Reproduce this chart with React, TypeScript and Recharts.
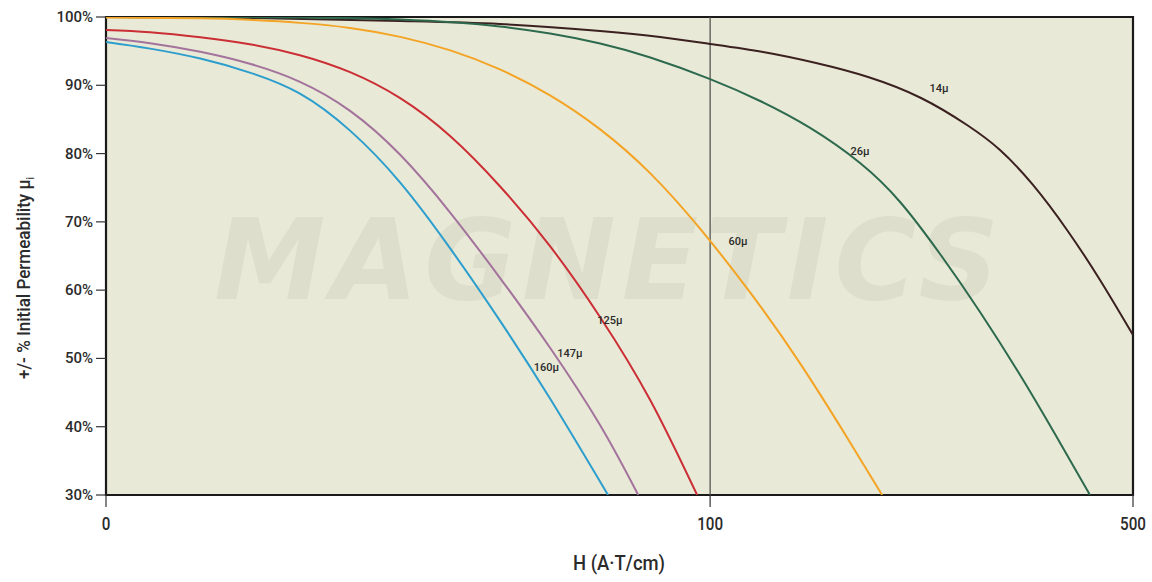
import React from 'react';
import {
  LineChart,
  Line,
  XAxis,
  YAxis,
  ReferenceLine,
  ReferenceArea,
  ReferenceDot,
} from 'recharts';

// Field strength H (A·T/cm) and % of initial permeability for each powder core
const h14 = [0, 23.8, 48.7, 65.2, 81.8, 91.7, 100, 150.1, 200.2, 249.4, 299.5, 343, 374.2, 405.4, 437.6, 468.8, 500];
const mu14 = [100, 99.85, 99.41, 98.97, 97.95, 97.07, 96.05, 94.87, 93.26, 91.21, 88.14, 84.18, 80.52, 75.4, 68.81, 61.49, 53.43];

const h26 = [0, 32.1, 48.7, 58, 65.2, 73.5, 81.8, 90.1, 100, 147.3, 194.6, 241.8, 279.7, 317.5, 355.3, 393.2, 426.2, 459.3];
const mu26 = [100, 99.93, 99.63, 99.19, 98.61, 97.58, 96.12, 94.07, 90.91, 87.7, 83.75, 78.62, 72.91, 65.29, 56.8, 47.57, 38.93, 30];

const h60 = [0, 15.6, 23.8, 32.1, 40.4, 48.7, 57, 65.2, 73.5, 81.8, 90.1, 98.3, 137.8, 185.1, 232.4, 262.7];
const mu60 = [99.93, 99.8, 99.58, 99.14, 98.4, 97.09, 95.11, 92.33, 88.52, 83.54, 77.1, 69.04, 59.67, 49.27, 37.7, 30];

const h125 = [0, 7.3, 15.6, 23.8, 32.1, 40.4, 48.7, 57, 65.2, 73.5, 81.8, 90.1, 97.85];
const mu125 = [98.1, 97.77, 97.04, 96.02, 94.41, 91.92, 88.11, 82.54, 75.22, 66.44, 56.04, 43.88, 30];

const h147 = [0, 7.3, 15.6, 23.8, 32.1, 40.4, 48.7, 57, 65.2, 73.5, 81.8, 88.1];
const mu147 = [96.92, 96.15, 94.9, 93.15, 90.51, 86.26, 79.82, 71.33, 61.81, 51.56, 40.21, 30];

const h160 = [0, 7.3, 15.6, 23.8, 32.1, 40.4, 48.7, 57, 65.2, 73.5, 83.1];
const mu160 = [96.34, 95.37, 93.91, 91.86, 88.78, 83.36, 75.75, 66.08, 55.54, 44.12, 30];

const xTicksH = [0, 100, 500];
const yTicks = [30, 40, 50, 60, 70, 80, 90, 100];

// The H axis is linear up to 100 and compressed from 100 to 500
const TAIL = 0.175;
const toU = (h: number) => (h <= 100 ? h : 100 + (h - 100) * TAIL);
const fromU = (u: number) => (u <= 100 ? u : 100 + (u - 100) / TAIL);

const FONT = "Roboto, 'Liberation Sans', sans-serif";
const INK = '#2b2b2b';

const curves = [
  { key: '14', name: '14µ', h: h14, mu: mu14, color: '#3b2020', label: [316.6, 89.6] },
  { key: '26', name: '26µ', h: h26, mu: mu26, color: '#2d6a4d', label: [241.9, 80.4] },
  { key: '60', name: '60µ', h: h60, mu: mu60, color: '#f4a425', label: [126.5, 67.2] },
  { key: '125', name: '125µ', h: h125, mu: mu125, color: '#cb2e34', label: [83.4, 55.6] },
  { key: '147', name: '147µ', h: h147, mu: mu147, color: '#a3739c', label: [76.8, 50.8] },
  { key: '160', name: '160µ', h: h160, mu: mu160, color: '#2c9ecd', label: [72.9, 48.7] },
].map((c) => ({ ...c, data: c.h.map((h, i) => ({ u: toU(h), v: c.mu[i] })) }));

const YTick = (props: any) => {
  const { x, y, payload } = props;
  return (
    <text x={x} y={y} dy={5} textAnchor="end" fontFamily={FONT} fontSize={15} fontWeight={500} fill={INK}>
      {`${payload.value}%`}
    </text>
  );
};

const XTick = (props: any) => {
  const { x, y, payload } = props;
  return (
    <g transform={`translate(${x},${y})`}>
      <text
        transform="scale(0.8,1)"
        dy={17}
        textAnchor="middle"
        fontFamily={FONT}
        fontSize={19}
        fontWeight={500}
        fill={INK}
      >
        {String(Math.round(fromU(payload.value)))}
      </text>
    </g>
  );
};

const YTitle = () => (
  <text
    transform="translate(30,278) rotate(-90)"
    textAnchor="middle"
    fontFamily={FONT}
    fontSize={18}
    fontWeight={500}
    fill={INK}
    textLength={202}
    lengthAdjust="spacingAndGlyphs"
  >
    +/- % Initial Permeability µ
    <tspan fontSize={10} dy={4}>i</tspan>
  </text>
);

const XTitle = () => (
  <text
    x={619}
    y={570}
    textAnchor="middle"
    fontFamily={FONT}
    fontSize={20}
    fontWeight={500}
    fill={INK}
    textLength={92}
    lengthAdjust="spacingAndGlyphs"
  >
    H (A·T/cm)
  </text>
);

export default function App() {
  return (
    <div style={{ position: 'absolute', left: 0, top: 0, width: 1152, height: 582, background: '#ffffff' }}>
      <div
        style={{
          position: 'absolute',
          left: 106,
          top: 17,
          width: 1027,
          height: 478,
          background: '#e8e9d7',
          overflow: 'hidden',
        }}
      >
        <div
          style={{
            position: 'absolute',
            left: 108,
            top: 178,
            fontFamily: "'DejaVu Sans', sans-serif",
            fontWeight: 'bold',
            fontStyle: 'italic',
            fontSize: 112,
            letterSpacing: 6,
            color: '#dedecd',
            whiteSpace: 'nowrap',
          }}
        >
          MAGNETICS
        </div>
      </div>
      <LineChart
        width={1152}
        height={582}
        margin={{ top: 17, right: 19, bottom: 0, left: 0 }}
        style={{ position: 'absolute', left: 0, top: 0 }}
      >
        <XAxis
          type="number"
          dataKey="u"
          domain={[0, toU(500)]}
          ticks={xTicksH.map(toU)}
          allowDataOverflow
          height={87}
          axisLine={false}
          tickSize={12}
          tickMargin={6}
          tickLine={{ stroke: '#333', strokeWidth: 1.2 }}
          tick={<XTick />}
          label={{ content: () => <XTitle /> }}
        />
        <YAxis
          type="number"
          dataKey="v"
          domain={[30, 100]}
          ticks={yTicks}
          allowDataOverflow
          width={106}
          axisLine={false}
          tickSize={10}
          tickMargin={3}
          tickLine={{ stroke: '#333', strokeWidth: 1.2 }}
          tick={<YTick />}
          label={{ content: () => <YTitle /> }}
        />
        <ReferenceLine x={toU(100)} stroke="#4a4a4a" strokeWidth={1.2} />
        {curves.map((c) => (
          <Line
            key={c.key}
            data={c.data}
            dataKey="v"
            type="natural"
            stroke={c.color}
            strokeWidth={2}
            dot={false}
            activeDot={false}
            isAnimationActive={false}
          />
        ))}
        {curves.map((c) => (
          <ReferenceDot
            key={`lbl-${c.key}`}
            x={toU(c.label[0])}
            y={c.label[1]}
            r={0}
            fill="none"
            stroke="none"
            label={{ value: c.name, position: 'center', fill: INK, fontSize: 11, fontFamily: FONT, fontWeight: 500 }}
          />
        ))}
        <ReferenceArea
          x1={0}
          x2={toU(500)}
          y1={30}
          y2={100}
          fill="none"
          stroke="#1a1a1a"
          strokeWidth={2.2}
        />
      </LineChart>
    </div>
  );
}
